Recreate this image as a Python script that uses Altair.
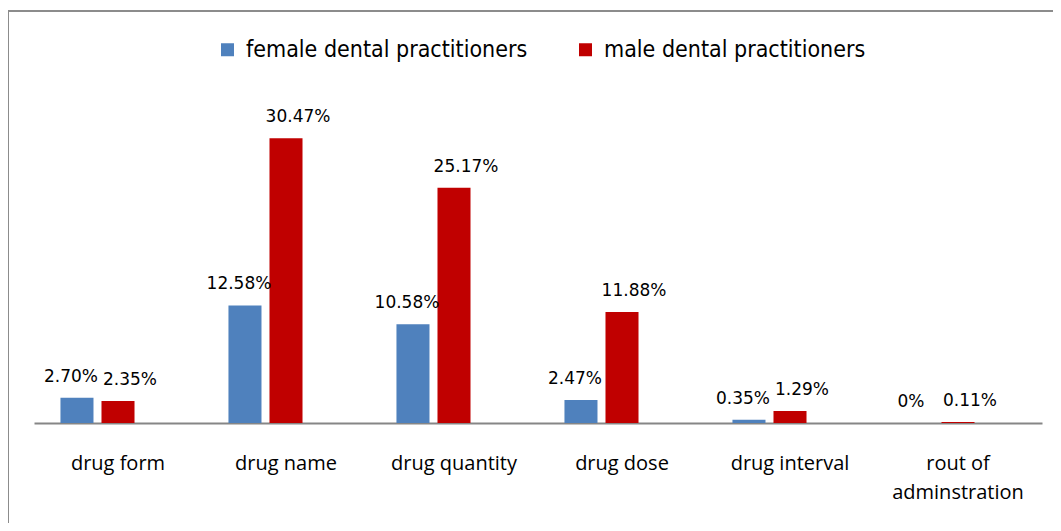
import altair as alt
import pandas as pd

categories = ["drug form", "drug name", "drug quantity", "drug dose",
              "drug interval", "rout of adminstration"]
series = ["female dental practitioners", "male dental practitioners"]
female_values = [2.70, 12.58, 10.58, 2.47, 0.35, 0.0]
male_values = [2.35, 30.47, 25.17, 11.88, 1.29, 0.11]
female_labels = ["2.70%", "12.58%", "10.58%", "2.47%", "0.35%", "0%"]
male_labels = ["2.35%", "30.47%", "25.17%", "11.88%", "1.29%", "0.11%"]
colors = ["#4F81BD", "#C00000"]

rows = []
for i, c in enumerate(categories):
    rows.append({"category": c, "series": series[0], "value": female_values[i], "label": female_labels[i]})
    rows.append({"category": c, "series": series[1], "value": male_values[i], "label": male_labels[i]})
df = pd.DataFrame(rows)

offset_domain = series + ["(empty)"]

x_enc = alt.X("category:N", sort=categories, title=None,
              scale=alt.Scale(paddingInner=0.315, paddingOuter=0.1575),
              axis=alt.Axis(labelAngle=0, ticks=False, domainColor="#868686", domainWidth=2,
                            labelFont="Open Sans", labelFontSize=20, labelColor="#000000",
                            labelPadding=30, labelLineHeight=29, labelLimit=0,
                            labelExpr="datum.label == 'rout of adminstration' ? ['rout of', 'adminstration'] : datum.label"))
xoff = alt.XOffset("series:N", scale=alt.Scale(domain=offset_domain, paddingInner=0.195, paddingOuter=0))
y_enc = alt.Y("value:Q", scale=alt.Scale(domain=[0, 35], nice=False), axis=None, title=None)

bars = alt.Chart(df).mark_bar().encode(
    x=x_enc,
    xOffset=xoff,
    y=y_enc,
    color=alt.Color("series:N", scale=alt.Scale(domain=series, range=colors),
                    legend=alt.Legend(title=None, orient="none", legendX=182, legendY=-58,
                                      direction="horizontal", symbolType="square", symbolSize=169,
                                      symbolStrokeWidth=0,
                                      labelFont="DejaVu Sans Condensed, Liberation Sans",
                                      labelFontSize=23, labelColor="#000000", labelOffset=7,
                                      labelLimit=0, columnPadding=46)),
)


def label_layer(name, shift):
    return alt.Chart(df).transform_filter(alt.datum.series == name).mark_text(
        baseline="bottom", dy=-12, dx=shift, font="DejaVu Sans", fontSize=17, color="#000000"
    ).encode(x=x_enc, xOffset=xoff, y=y_enc, text="label:N")


texts_f = label_layer(series[0], -6)
texts_m = label_layer(series[1], 12)

border = alt.Chart(pd.DataFrame({"b": [0]})).mark_rect(fill="transparent", stroke="#8c8c8c",
                                                       strokeWidth=2).encode(
    x=alt.value(-26), x2=alt.value(1100), y=alt.value(-85), y2=alt.value(520)
)

chart = alt.layer(border, bars, texts_f, texts_m).properties(
    width=1008, height=327,
    autosize=alt.AutoSizeParams(type="none"),
    padding={"left": 26, "top": 88, "right": 11, "bottom": 100},
).configure_view(stroke=None)

chart.save("out.html", embed_options={"renderer": "svg", "actions": False})
